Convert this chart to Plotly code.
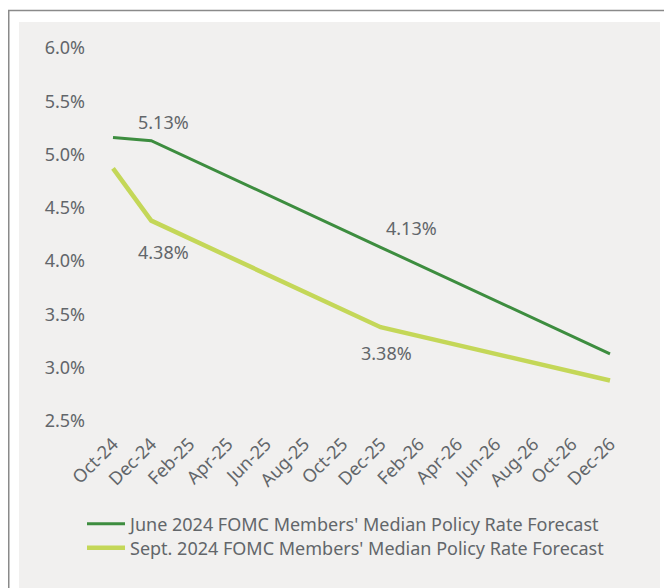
import plotly.graph_objects as go

months = ["Oct-24", "Nov-24", "Dec-24", "Jan-25", "Feb-25", "Mar-25", "Apr-25", "May-25",
          "Jun-25", "Jul-25", "Aug-25", "Sep-25", "Oct-25", "Nov-25", "Dec-25", "Jan-26",
          "Feb-26", "Mar-26", "Apr-26", "May-26", "Jun-26", "Jul-26", "Aug-26", "Sep-26",
          "Oct-26", "Nov-26", "Dec-26"]
tick_labels = months[::2]

point_months = ["Oct-24", "Dec-24", "Dec-25", "Dec-26"]
june_values = [5.16, 5.13, 4.13, 3.13]
sept_values = [4.87, 4.38, 3.38, 2.88]

june_name = "June 2024 FOMC Members' Median Policy Rate Forecast"
sept_name = "Sept. 2024 FOMC Members' Median Policy Rate Forecast"

# labelled points: (month, value, xshift, yshift)
june_labels = [("Dec-24", 5.13, 12, 19), ("Dec-25", 4.13, 31, 19)]
sept_labels = [("Dec-24", 4.38, 12, -31), ("Dec-25", 3.38, 6, -26)]

DARK = "#3d8d3f"
LIGHT = "#c4d758"
TEXT = "#62666a"
PANEL = "#f1f0ef"
FONT = "Noto Sans, Open Sans, sans-serif"
FS = 18

# page body has an 8px margin; work in figure coordinates
W, H = 664, 580
L, R, T, B = 92, 42, 40, 167
pw, ph = W - L - R, H - T - B

def px_x(px):
    return (px - L) / pw

def px_y(py):
    return (H - B - py) / ph

step = (602 - 105) / 26.0
xr = [-(105 - L) / step, 26 + (W - R - 602) / step]

fig = go.Figure()
fig.add_trace(go.Scatter(x=point_months, y=june_values, mode="lines", name=june_name,
                         line=dict(color=DARK, width=3), legend="legend"))
fig.add_trace(go.Scatter(x=point_months, y=sept_values, mode="lines", name=sept_name,
                         line=dict(color=LIGHT, width=4.5), legend="legend2"))

for m, v, dx, dy in june_labels + sept_labels:
    fig.add_annotation(x=m, y=v, text=f"{v:.2f}%", showarrow=False, xshift=dx, yshift=dy,
                       font=dict(family=FONT, size=FS, color=TEXT))

shapes = [
    dict(type="rect", xref="paper", yref="paper", x0=px_x(11), x1=px_x(652),
         y0=px_y(620), y1=px_y(14), fillcolor=PANEL, line=dict(width=0), layer="below"),
    dict(type="rect", xref="paper", yref="paper", x0=px_x(0.75), x1=px_x(662),
         y0=px_y(620), y1=px_y(2.5), fillcolor="rgba(0,0,0,0)",
         line=dict(color="#8a8a8a", width=1.5), layer="below"),
]

leg_common = dict(xanchor="left", yanchor="middle", orientation="v",
                  bgcolor="rgba(0,0,0,0)", font=dict(family=FONT, size=FS, color=TEXT),
                  itemwidth=38)

fig.update_layout(
    width=W, height=H,
    margin=dict(l=L, r=R, t=T, b=B, autoexpand=False),
    paper_bgcolor="white", plot_bgcolor=PANEL,
    font=dict(family=FONT, size=FS, color=TEXT),
    shapes=shapes,
    showlegend=True,
    legend=dict(x=px_x(74), y=px_y(516), **leg_common),
    legend2=dict(x=px_x(74), y=px_y(540), **leg_common),
    xaxis=dict(type="category", categoryorder="array", categoryarray=months,
               range=xr, tickmode="array", tickvals=tick_labels, ticktext=tick_labels,
               tickangle=-45, showgrid=False, zeroline=False, showline=False,
               ticks="", ticklabelstandoff=8, tickfont=dict(size=FS, color=TEXT)),
    yaxis=dict(range=[2.5, 6.0], dtick=0.5, tick0=2.5, tickformat=".1f", ticksuffix="%",
               showgrid=False, zeroline=False, showline=False, ticks="",
               ticklabelstandoff=14, tickfont=dict(size=FS, color=TEXT)),
)

fig.write_html("out.html")
